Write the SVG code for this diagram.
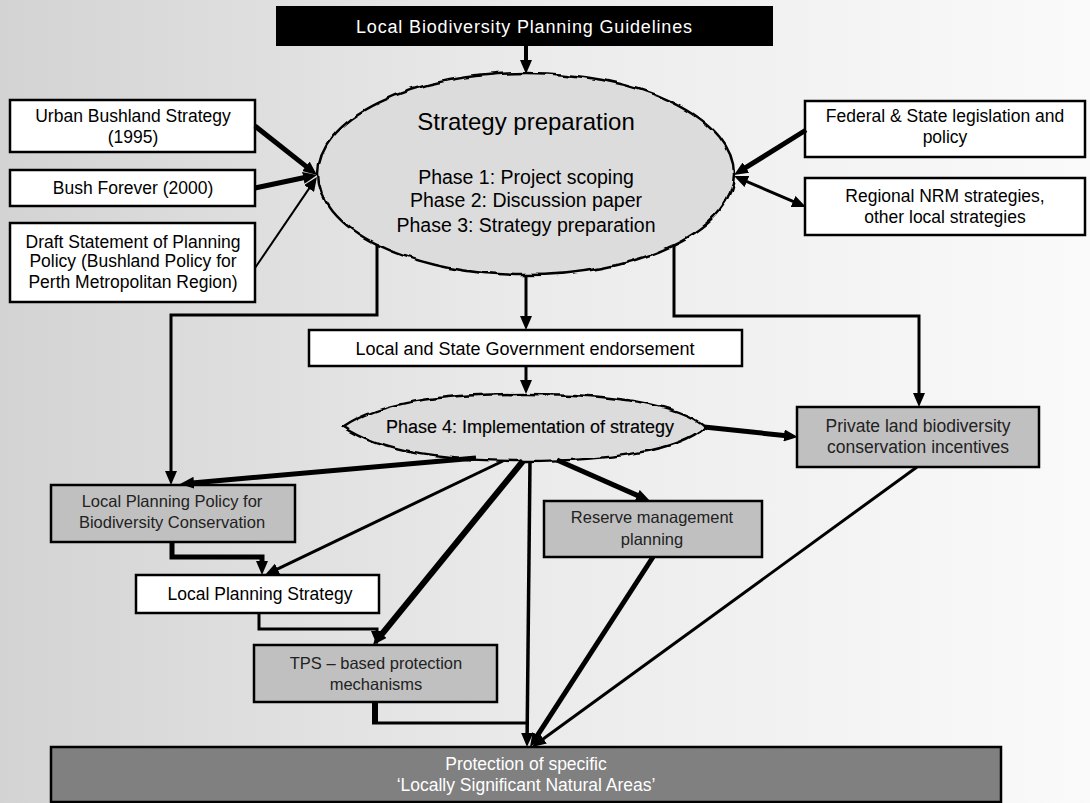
<svg xmlns="http://www.w3.org/2000/svg" width="1090" height="803" viewBox="0 0 1090 803">
<defs>
<linearGradient id="bg" x1="0" y1="0" x2="1" y2="0">
<stop offset="0" stop-color="#d3d3d3"/>
<stop offset="0.5" stop-color="#ebebeb"/>
<stop offset="1" stop-color="#fafafa"/>
</linearGradient>
<filter id="wavy" x="-5%" y="-10%" width="110%" height="120%">
<feTurbulence type="fractalNoise" baseFrequency="0.05" numOctaves="2" seed="4" result="n"/>
<feDisplacementMap in="SourceGraphic" in2="n" scale="6" xChannelSelector="R" yChannelSelector="G"/>
</filter>
<marker id="arr" viewBox="0 0 14 12" refX="5" refY="6" markerWidth="14" markerHeight="12" markerUnits="userSpaceOnUse" orient="auto-start-reverse">
<path d="M0,0 L14,6 L0,12 Z" fill="#000"/>
</marker>
</defs>
<style>
text{font-family:"Liberation Sans",Arial,sans-serif;text-anchor:middle;fill:#000}
.box{stroke:#000;stroke-width:2.5}
.w{fill:#fff}
.g{fill:#c0c0c0}
.gt{fill:#222;font-size:16.5px}
.bt{font-size:17.5px}
.c{fill:none;stroke:#000;stroke-linejoin:miter}
.a{marker-end:url(#arr)}
.oval{fill:#dcdcdc;stroke:#000;stroke-width:2.5;filter:url(#wavy)}
</style>
<rect x="0" y="0" width="1090" height="803" fill="url(#bg)"/>

<g id="guidelines">
<rect x="276" y="6" width="497" height="40" fill="#000"/>
<text x="524" y="33" style="fill:#fff;font-size:18px" textLength="336" lengthAdjust="spacing">Local Biodiversity Planning Guidelines</text>
</g>

<g id="strategy-preparation">
<ellipse class="oval" cx="526" cy="174" rx="208" ry="101"/>
<text x="526" y="130" style="font-size:24px">Strategy preparation</text>
<text x="526" y="184" style="font-size:19.5px">Phase 1: Project scoping</text>
<text x="526" y="207" style="font-size:19.5px">Phase 2: Discussion paper</text>
<text x="526" y="232" style="font-size:19.5px">Phase 3: Strategy preparation</text>
</g>

<g id="urban-bushland">
<rect class="box w" x="10" y="100" width="245" height="52"/>
<text class="bt" x="133" y="122">Urban Bushland Strategy</text>
<text class="bt" x="133" y="143">(1995)</text>
</g>

<g id="bush-forever">
<rect class="box w" x="10" y="170" width="245" height="36"/>
<text class="bt" x="133" y="194">Bush Forever (2000)</text>
</g>

<g id="draft-statement">
<rect class="box w" x="10" y="223" width="245" height="79"/>
<text class="bt" x="133" y="248">Draft Statement of Planning</text>
<text class="bt" x="133" y="267">Policy (Bushland Policy for</text>
<text class="bt" x="133" y="288">Perth Metropolitan Region)</text>
</g>

<g id="federal-state">
<rect class="box w" x="805" y="101" width="280" height="56"/>
<text class="bt" x="945" y="122">Federal &amp; State legislation and</text>
<text class="bt" x="945" y="143">policy</text>
</g>

<g id="regional-nrm">
<rect class="box w" x="805" y="178" width="280" height="57"/>
<text class="bt" x="945" y="202">Regional NRM strategies,</text>
<text class="bt" x="945" y="223">other local strategies</text>
</g>

<g id="endorsement">
<rect class="box w" x="309" y="330" width="433" height="36"/>
<text x="525" y="355" style="font-size:18px">Local and State Government endorsement</text>
</g>

<g id="phase4">
<path class="oval" d="M343,427 C380,402 440,394 526,394 C612,394 680,404 705,427 C680,450 612,461 526,461 C440,461 380,452 343,427 Z"/>
<text x="530" y="433" style="font-size:18px;stroke:#000;stroke-width:0.15">Phase 4: Implementation of strategy</text>
</g>

<g id="private-land">
<rect class="box g" x="797" y="407" width="242" height="60"/>
<text class="gt" x="918" y="432" style="font-size:17.5px">Private land biodiversity</text>
<text class="gt" x="918" y="453" style="font-size:17.5px">conservation incentives</text>
</g>

<g id="local-planning-policy">
<rect class="box g" x="51" y="485" width="244" height="57"/>
<text class="gt" x="172" y="507">Local Planning Policy for</text>
<text class="gt" x="172" y="528">Biodiversity Conservation</text>
</g>

<g id="reserve-management">
<rect class="box g" x="544" y="501" width="218" height="56"/>
<text class="gt" x="652" y="523">Reserve management</text>
<text class="gt" x="652" y="545">planning</text>
</g>

<g id="local-planning-strategy">
<rect class="box w" x="136" y="575" width="243" height="38"/>
<text class="bt" x="260" y="600">Local Planning Strategy</text>
</g>

<g id="tps">
<rect class="box g" x="254" y="645" width="243" height="57"/>
<text class="gt" x="376" y="669">TPS – based protection</text>
<text class="gt" x="376" y="690">mechanisms</text>
</g>

<g id="protection">
<rect x="51" y="747" width="950" height="55" fill="#808080" stroke="#000" stroke-width="2.5"/>
<text x="526" y="770" style="fill:#fff;font-size:17.5px">Protection of specific</text>
<text x="526" y="791" style="fill:#fff;font-size:17.5px">‘Locally Significant Natural Areas’</text>
</g>

<g id="connectors">
<path class="c a" stroke-width="4" d="M526,46 L526,65"/>
<path class="c a" stroke-width="5" d="M255,126 L309.9,169.4"/>
<path class="c a" stroke-width="5" d="M255,188 L308.2,176.8"/>
<path class="c a" stroke-width="2" d="M255,268 L311.9,184.4"/>
<path class="c a" stroke-width="5" d="M806,130 L741.6,170.2"/>
<path class="c a" stroke-width="3" d="M742.3,179.6 L797.7,203.4" style="marker-start:url(#arr)"/>
<path class="c a" stroke-width="3" d="M377,244 L377,315 L171,315 L171,476"/>
<path class="c a" stroke-width="3" d="M526,275 L526,321"/>
<path class="c a" stroke-width="3" d="M674,244 L674,316 L919,316 L919,398"/>
<path class="c a" stroke-width="3" d="M526,366 L526,385"/>
<path class="c a" stroke-width="5" d="M704,427 L789,436"/>
<path class="c a" stroke-width="5" d="M476,458 L189,483.2"/>
<path class="c a" stroke-width="5" d="M557,460 L641.8,497.4"/>
<path class="c a" stroke-width="3" d="M503,461 L273.1,571.1"/>
<path class="c a" stroke-width="6" d="M523,461 L378.7,638"/>
<path class="c a" stroke-width="3.5" d="M530,461 L527.1,738"/>
<path class="c a" stroke-width="5" d="M172,542 L172,557 L262,557 L262,566"/>
<path class="c a" stroke-width="3" d="M259,613 L259,629 L377,629 L377,636"/>
<path class="c" stroke-width="6" d="M375,702 L375,723"/>
<path class="c" stroke-width="3" d="M372,723 L527,723"/>
<path class="c a" stroke-width="5" d="M653,557 L534.9,739.4"/>
<path class="c a" stroke-width="3" d="M917,467 L539.3,741.7"/>
</g>
</svg>
